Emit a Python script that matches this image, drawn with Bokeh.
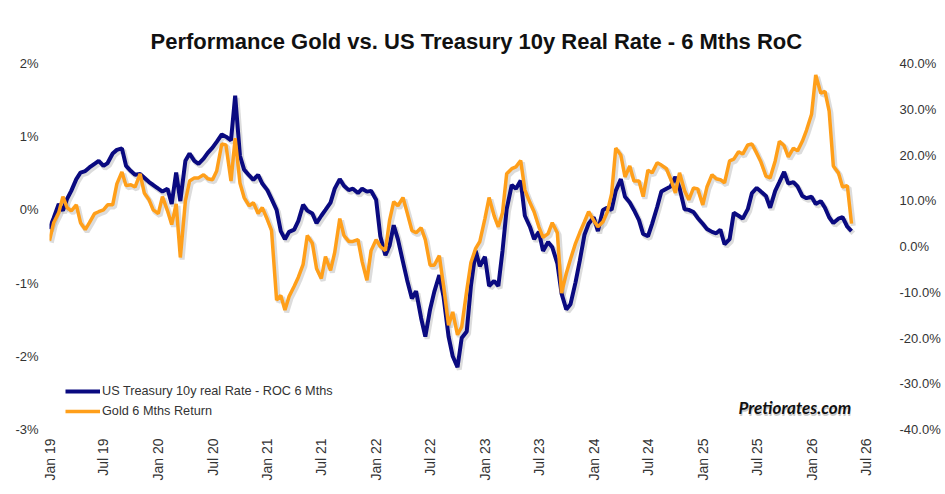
import math
import pandas as pd
from bokeh.plotting import figure
from bokeh.models import (Range1d, LinearAxis, FixedTicker, PrintfTickFormatter,
                          DatetimeTickFormatter, Legend, LegendItem, Label)
from bokeh.embed import file_html
from bokeh.resources import INLINE

# ---- data ----
start_date = "2019-01-01"
n_points = 178  # semi-monthly observations

real_rate_roc = [
    -0.26, -0.11, 0.08, -0.01, 0.15, 0.26, 0.42, 0.51, 0.53, 0.58,
    0.63, 0.67, 0.60, 0.64, 0.77, 0.82, 0.84, 0.60, 0.53, 0.48,
    0.49, 0.44, 0.38, 0.34, 0.29, 0.25, 0.29, 0.08, 0.51, 0.12,
    0.67, 0.77, 0.67, 0.63, 0.70, 0.78, 0.85, 0.93, 1.03, 1.00,
    0.95, 1.56, 0.74, 0.55, 0.47, 0.41, 0.48, 0.36, 0.27, 0.15,
    0.00, -0.29, -0.40, -0.30, -0.27, -0.15, 0.07, -0.01, -0.05, -0.18,
    -0.08, 0.00, 0.10, 0.29, 0.42, 0.33, 0.27, 0.29, 0.23, 0.29,
    0.25, 0.26, 0.14, -0.36, -0.62, -0.49, -0.21, -0.40, -0.71, -0.96,
    -1.21, -1.11, -1.48, -1.73, -1.36, -1.12, -0.89, -1.18, -1.73, -2.00,
    -2.15, -1.75, -1.66, -1.04, -0.56, -0.77, -0.64, -1.04, -0.97, -1.04,
    -0.56, 0.01, 0.34, 0.29, 0.40, -0.08, -0.23, -0.40, -0.30, -0.56,
    -0.44, -0.51, -0.73, -1.14, -1.36, -1.29, -0.99, -0.70, -0.34, -0.19,
    -0.10, -0.29, 0.00, 0.03, 0.00, 0.26, 0.42, 0.18, 0.10, 0.00,
    -0.14, -0.33, -0.36, -0.19, 0.04, 0.25, 0.29, 0.32, 0.45, 0.30,
    0.01, 0.00, -0.03, -0.11, -0.19, -0.26, -0.30, -0.32, -0.27, -0.47,
    -0.40, -0.04, -0.08, -0.12, 0.01, 0.23, 0.30, 0.25, 0.19, 0.03,
    0.26, 0.38, 0.52, 0.36, 0.38, 0.32, 0.19, 0.16, 0.18, 0.08,
    0.12, 0.03, -0.10, -0.18, -0.12, -0.10, -0.23, -0.29,
]

gold_return = [
    1.3, 5.2, 7.4, 10.9, 8.5, 7.8, 9.1, 5.2, 3.7, 5.2,
    7.2, 7.6, 8.0, 9.1, 9.1, 13.7, 16.3, 13.3, 13.5, 13.0,
    15.9, 11.7, 10.2, 8.0, 7.2, 10.9, 7.8, 4.8, 9.3, -2.4,
    10.0, 14.3, 15.0, 15.0, 15.7, 14.8, 14.6, 16.5, 22.4, 22.2,
    14.3, 23.7, 13.9, 10.7, 8.9, 9.6, 7.2, 8.5, 5.9, 3.5,
    -11.7, -10.7, -13.9, -10.9, -8.7, -6.7, -3.9, 2.4, 0.7, -4.8,
    -7.0, -2.2, -5.2, -1.3, 6.1, 2.4, 1.1, 1.1, 1.5, -3.3,
    -7.4, -0.9, 1.5, 0.0, -0.9, 5.7, 9.8, 8.9, 10.7, 7.4,
    3.5, 3.0, 4.1, 1.5, -4.1, -4.1, -2.0, -8.5, -17.2, -14.3,
    -19.3, -17.6, -9.6, -3.5, -0.4, 1.1, 6.1, 10.7, 6.7, 4.3,
    7.4, 15.9, 17.0, 17.4, 18.8, 12.4, 9.6, 7.6, 4.3, 2.0,
    2.8, 5.2, 3.0, -10.2, -5.9, -2.8, 0.7, 3.0, 5.4, 7.6,
    5.7, 4.3, 5.4, 7.4, 11.5, 21.5, 20.0, 15.2, 17.6, 14.3,
    14.3, 10.9, 16.7, 16.1, 18.3, 17.8, 17.0, 14.8, 11.7, 16.1,
    12.2, 10.2, 12.8, 12.6, 9.1, 13.0, 15.7, 14.8, 14.6, 13.9,
    18.7, 19.1, 20.7, 20.2, 22.2, 22.4, 20.4, 18.5, 15.4, 15.0,
    18.7, 23.0, 22.0, 19.6, 21.5, 20.9, 23.0, 25.4, 28.9, 37.5,
    33.5, 33.9, 29.6, 17.6, 16.1, 13.0, 13.3, 5.0,
]

left_ticks = [-3, -2, -1, 0, 1, 2]
right_ticks = [-40, -30, -20, -10, 0, 10, 20, 30, 40]
x_tick_dates = [f"{y}-{m:02d}-01" for y in range(2019, 2027) for m in (1, 7)]

series_names = ["US Treasury 10y real Rate - ROC 6 Mths", "Gold 6 Mths Return"]
title_text = "Performance Gold vs. US Treasury 10y Real Rate - 6 Mths RoC"
watermark = "Pretiorates.com"

BLUE = "#0a0a80"
GOLD = "#ff9f1a"
TXT = "#333333"

dates = pd.date_range(start_date, periods=n_points, freq="SMS")

p = figure(width=943, height=492, output_backend="svg", toolbar_location=None,
           x_axis_type="datetime",
           x_range=Range1d(pd.Timestamp("2019-01-01"), pd.Timestamp("2026-07-01")),
           y_range=Range1d(-3, 2),
           min_border_left=49, min_border_right=75, min_border_top=63,
           min_border_bottom=63)
p.extra_y_ranges = {"right": Range1d(-40, 40)}
p.outline_line_color = None
p.xgrid.visible = False
p.ygrid.visible = False

p.title.text = title_text
p.title.text_font = "Liberation Sans"
p.title.text_font_style = "bold"
p.title.text_font_size = "22px"
p.title.text_color = "#111111"
p.title.align = "left"
p.title.offset = 101
p.title.standoff = 19

# drop shadows (small offset of the same data)
shadow_dt = pd.Timedelta(days=6)
p.line(dates + shadow_dt, [v - 0.03 for v in real_rate_roc], line_color="#9a9a9a",
       line_alpha=0.35, line_width=5)
p.line(dates + shadow_dt, [v - 0.45 for v in gold_return], line_color="#9a9a9a",
       line_alpha=0.35, line_width=5, y_range_name="right")

r_blue = p.line(dates, real_rate_roc, line_color=BLUE, line_width=4)
r_gold = p.line(dates, gold_return, line_color=GOLD, line_width=3.5, y_range_name="right")

# axes
def style_axis(ax, size, standoff):
    ax.axis_line_color = None
    ax.major_tick_line_color = None
    ax.minor_tick_line_color = None
    ax.major_tick_out = 0
    ax.major_tick_in = 0
    ax.minor_tick_out = 0
    ax.major_label_text_font = "Liberation Sans"
    ax.major_label_text_font_size = size
    ax.major_label_text_color = TXT
    ax.major_label_standoff = standoff

xa = p.xaxis[0]
xa.ticker = FixedTicker(ticks=[pd.Timestamp(d).value // 10**6 for d in x_tick_dates])
xa.formatter = DatetimeTickFormatter(days="%b %y", months="%b %y", years="%b %y")
xa.major_label_orientation = math.pi / 2
style_axis(xa, "14px", 9)

ya = p.yaxis[0]
ya.ticker = FixedTicker(ticks=left_ticks)
ya.formatter = PrintfTickFormatter(format="%d%%")
style_axis(ya, "13px", 11)

ra = LinearAxis(y_range_name="right", ticker=FixedTicker(ticks=right_ticks),
                formatter=PrintfTickFormatter(format="%.1f%%"))
style_axis(ra, "13px", 34)
p.add_layout(ra, "right")

legend = Legend(items=[LegendItem(label=series_names[0], renderers=[r_blue]),
                       LegendItem(label=series_names[1], renderers=[r_gold])],
                location=(16, 10), glyph_width=35, glyph_height=16, label_height=16,
                label_standoff=2, spacing=4, padding=0, margin=0,
                background_fill_alpha=0, border_line_color=None,
                label_text_font="Liberation Sans", label_text_font_size="12.7px",
                label_text_color=TXT)
p.add_layout(legend)

wm_shadow = Label(x=pd.Timestamp("2025-05-03"), y=-2.73, text=watermark,
                  text_font="Lato", text_font_style="bold italic",
                  text_font_size="17px", text_color="#aaaaaa", text_alpha=0.6,
                  text_baseline="middle")
p.add_layout(wm_shadow)
wm = Label(x=pd.Timestamp("2025-05-01"), y=-2.70, text=watermark,
           text_font="Lato", text_font_style="bold italic",
           text_font_size="17px", text_color="#111111", text_baseline="middle")
p.add_layout(wm)

open("out.html", "w").write(file_html(p, INLINE))
